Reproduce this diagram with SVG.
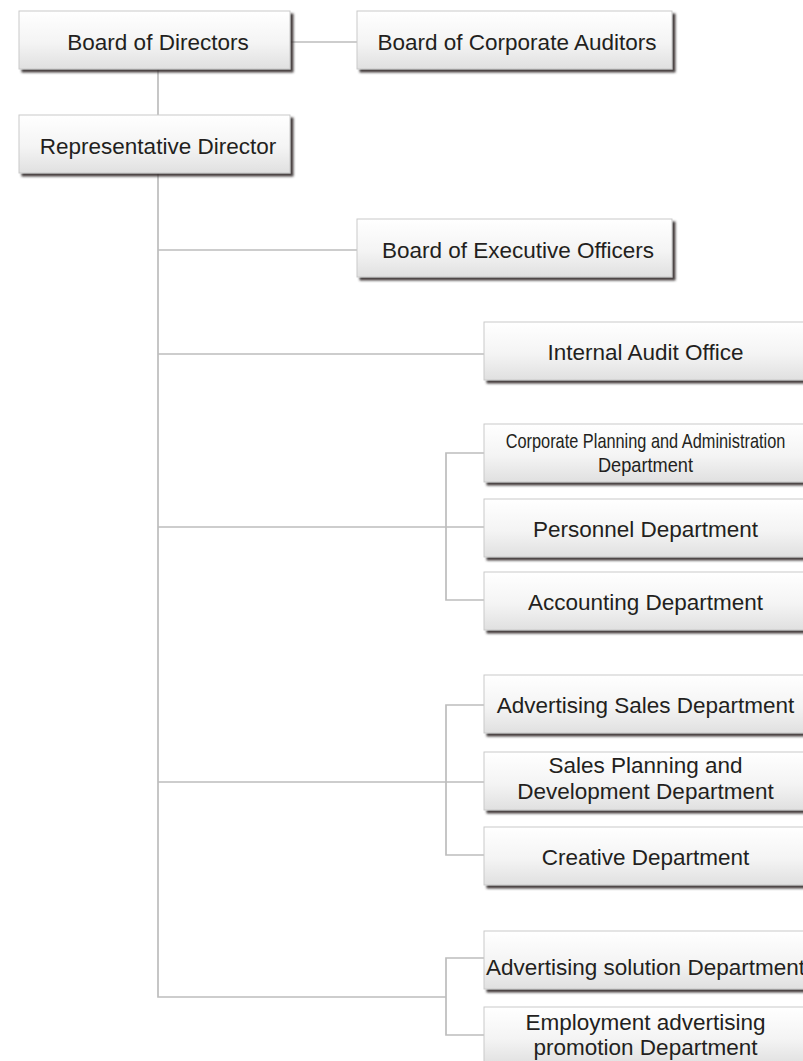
<svg xmlns="http://www.w3.org/2000/svg" width="803" height="1061" viewBox="0 0 803 1061">
<style>
.box{fill:url(#g);stroke:#c9c9c9;stroke-width:1;filter:url(#sh)}
.t{font-family:"Liberation Sans",Arial,Helvetica,sans-serif;font-size:22.5px;fill:#231f20;text-anchor:middle}
.c{fill:none;stroke:#bdbdbd;stroke-width:1.7}
</style>
<defs>
<linearGradient id="g" x1="0" y1="0" x2="0" y2="1">
<stop offset="0" stop-color="#ffffff"/>
<stop offset="0.55" stop-color="#f4f4f4"/>
<stop offset="1" stop-color="#e0e0e0"/>
</linearGradient>
<filter id="sh" x="-5%" y="-10%" width="115%" height="130%">
<feDropShadow dx="3" dy="3" stdDeviation="1" flood-color="#302828" flood-opacity="0.9"/>
</filter>
</defs>
<rect width="803" height="1061" fill="#ffffff"/>
<g id="connectors">
<path class="c" d="M290 42H357"/>
<path class="c" d="M158 69V115"/>
<path class="c" d="M158 173V997H446"/>
<path class="c" d="M158 250H357"/>
<path class="c" d="M158 354H484"/>
<path class="c" d="M158 527H484M484 453H446V600H484"/>
<path class="c" d="M158 782H484M484 705H446V855H484"/>
<path class="c" d="M484 958H446V1035H484"/>
</g>
<g id="board-of-directors"><rect class="box" x="19" y="11" width="271" height="58"/><text class="t" x="158" y="50">Board of Directors</text></g>
<g id="board-of-corporate-auditors"><rect class="box" x="357" y="11" width="315" height="58"/><text class="t" x="517" y="50">Board of Corporate Auditors</text></g>
<g id="representative-director"><rect class="box" x="19" y="115" width="271" height="58"/><text class="t" x="158" y="154">Representative Director</text></g>
<g id="board-of-executive-officers"><rect class="box" x="357" y="219" width="315" height="58"/><text class="t" x="518" y="258">Board of Executive Officers</text></g>
<g id="internal-audit-office"><rect class="box" x="484" y="322" width="324" height="58"/><text class="t" x="645.5" y="360">Internal Audit Office</text></g>
<g id="corporate-planning"><rect class="box" x="484" y="424" width="324" height="58"/><text class="t" transform="translate(645.5 448) scale(0.817 1)" x="0" y="0" style="font-size:20px">Corporate Planning and Administration</text><text class="t" transform="translate(645.5 472) scale(0.91 1)" x="0" y="0" style="font-size:20px">Department</text></g>
<g id="personnel"><rect class="box" x="484" y="499" width="324" height="58"/><text class="t" x="645.5" y="537">Personnel Department</text></g>
<g id="accounting"><rect class="box" x="484" y="572" width="324" height="58"/><text class="t" x="645.5" y="610">Accounting Department</text></g>
<g id="advertising-sales"><rect class="box" x="484" y="675" width="324" height="58"/><text class="t" x="645.5" y="713">Advertising Sales Department</text></g>
<g id="sales-planning"><rect class="box" x="484" y="752" width="324" height="58"/><text class="t" x="645.5" y="773">Sales Planning and</text><text class="t" x="645.5" y="799">Development Department</text></g>
<g id="creative"><rect class="box" x="484" y="827" width="324" height="58"/><text class="t" x="645.5" y="865">Creative Department</text></g>
<g id="advertising-solution"><rect class="box" x="484" y="931" width="324" height="58"/><text class="t" x="645.5" y="975">Advertising solution Department</text></g>
<g id="employment-advertising"><rect class="box" x="484" y="1007" width="324" height="58"/><text class="t" x="645.5" y="1030">Employment advertising</text><text class="t" x="645.5" y="1055">promotion Department</text></g>
</svg>
